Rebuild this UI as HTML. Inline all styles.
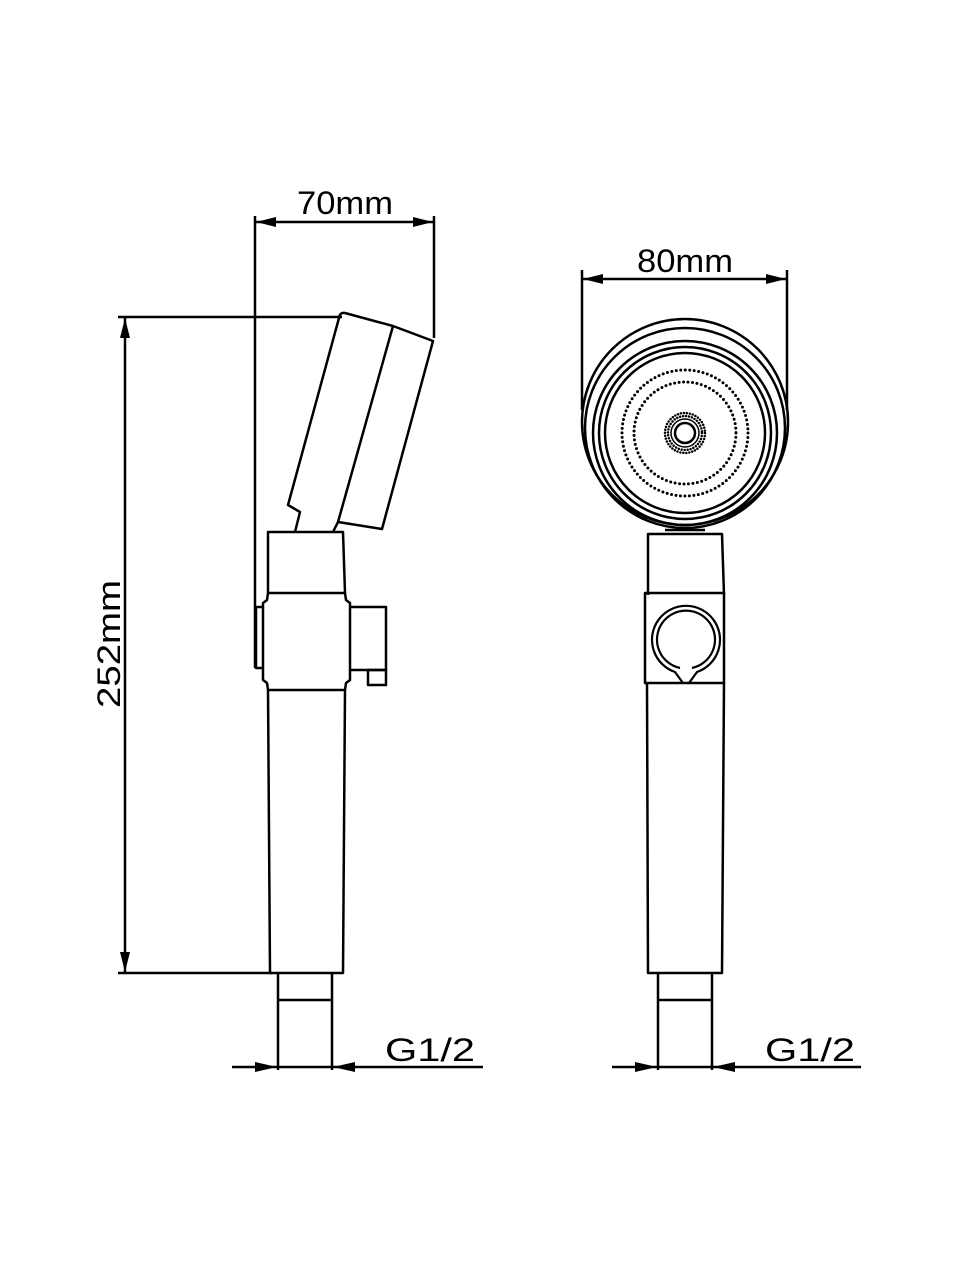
<!DOCTYPE html>
<html><head><meta charset="utf-8"><style>
html,body{margin:0;padding:0;background:#fff;}
svg{display:block}
text{font-family:"Liberation Sans",sans-serif;font-size:32px;fill:#000;}
</style></head><body>
<svg width="960" height="1280" viewBox="0 0 960 1280" xmlns="http://www.w3.org/2000/svg">
<g fill="none" stroke="#000" stroke-width="2.5" stroke-linejoin="round">
<!-- LEFT VIEW dimensions -->
<line x1="255" y1="216" x2="255" y2="668"/>
<line x1="434" y1="216" x2="434" y2="338"/>
<line x1="255" y1="222" x2="434" y2="222"/>
<line x1="118" y1="317" x2="342" y2="317"/>
<line x1="125" y1="317" x2="125" y2="973"/>
<line x1="118" y1="973" x2="272" y2="973"/>
<!-- head -->
<path d="M345,313 L393,326 L433,341 L382,529 L338,522 L393,326"/>
<path d="M345,313 Q340,312 339,318 L288,505 L300,512 L295,532"/>
<path d="M338,522 L333,532"/>
<!-- neck -->
<path d="M268,593 L268,532 L343,532 L345,593"/>
<!-- collar -->
<path d="M268,593 L345,593 L346,600 L350,603 L350,680 L346,683 L345,690 L268,690 L267,683 L263,680 L263,603 L267,600 Z"/>
<path d="M263,607 L256,607 L256,668 L263,668"/>
<path d="M350,607 L386,607 L386,670 L350,670"/>
<rect x="368" y="670" width="18" height="15"/>
<!-- handle -->
<path d="M268,690 L270,973 L343,973 L345,690"/>
<!-- pipe -->
<path d="M278,973 L278,1070 M332,973 L332,1070 M278,1000 L332,1000"/>
<line x1="232" y1="1067" x2="483" y2="1067"/>

<!-- RIGHT VIEW dimensions -->
<line x1="582" y1="270" x2="582" y2="410"/>
<line x1="787" y1="270" x2="787" y2="410"/>
<line x1="582" y1="279" x2="787" y2="279"/>
<!-- head circles -->
<circle cx="685" cy="422" r="103"/>
<circle cx="685" cy="428" r="100"/>
<circle cx="685" cy="433" r="92"/>
<circle cx="685" cy="433" r="86"/>
<circle cx="685" cy="433" r="80"/>
<circle cx="685" cy="433" r="10"/>
<circle cx="685" cy="433" r="14" stroke-width="1.5"/>
<!-- neck -->
<path d="M665,530 L705,530 M648,595 L648,534 L722,534 L724,595"/>
<!-- collar -->
<rect x="645" y="593" width="79" height="90"/>
<path d="M683,683 L675,672 A34,34 0 1 1 697,672 L689,683" stroke-width="2.2"/>
<path d="M680,668 A29,29 0 1 1 692,668" stroke-width="2.2"/>
<!-- handle -->
<path d="M647,683 L648,973 L722,973 L724,683"/>
<path d="M658,973 L658,1070 M712,973 L712,1070 M658,1000 L712,1000"/>
<line x1="612" y1="1067" x2="861" y2="1067"/>
</g>
<!-- dotted rings -->
<g fill="none" stroke="#000" stroke-linecap="round">
<circle cx="685" cy="433" r="63" stroke-width="3" stroke-dasharray="0 4.5"/>
<circle cx="685" cy="433" r="51" stroke-width="3" stroke-dasharray="0 4.5"/>
<circle cx="685" cy="433" r="17" stroke-width="2.5" stroke-dasharray="0 3"/>
<circle cx="685" cy="433" r="20" stroke-width="2.5" stroke-dasharray="0 3"/>
</g>
<!-- arrowheads -->
<g fill="#000">
<polygon points="256,222 276,217 276,227"/>
<polygon points="433,222 413,217 413,227"/>
<polygon points="125,318 120,338 130,338"/>
<polygon points="125,972 120,952 130,952"/>
<polygon points="583,279 603,274 603,284"/>
<polygon points="786,279 766,274 766,284"/>
<polygon points="277,1067 255,1062 255,1072"/>
<polygon points="333,1067 355,1062 355,1072"/>
<polygon points="657,1067 635,1062 635,1072"/>
<polygon points="713,1067 735,1062 735,1072"/>
</g>
<!-- labels -->
<text x="297" y="214" textLength="96" lengthAdjust="spacingAndGlyphs">70mm</text>
<text x="637" y="272" textLength="96" lengthAdjust="spacingAndGlyphs">80mm</text>
<text x="385" y="1061" textLength="90" lengthAdjust="spacingAndGlyphs">G1/2</text>
<text x="765" y="1061" textLength="90" lengthAdjust="spacingAndGlyphs">G1/2</text>
<text transform="translate(120,708) rotate(-90)" textLength="128" lengthAdjust="spacingAndGlyphs">252mm</text>
</svg>
</body></html>
